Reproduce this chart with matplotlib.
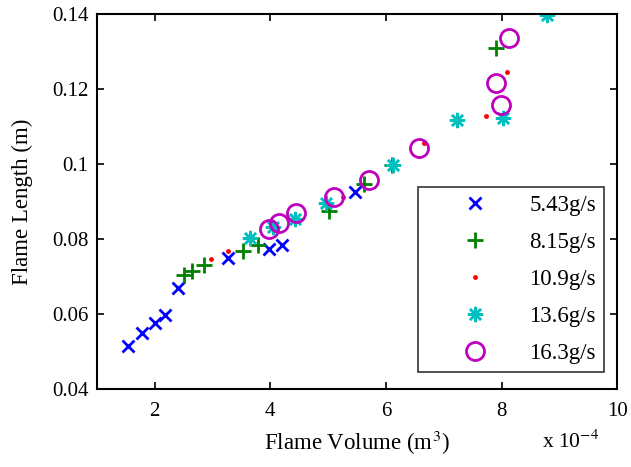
import matplotlib
matplotlib.use("Agg")
import matplotlib.pyplot as plt

plt.rcParams['font.family'] = ['Liberation Serif', 'DejaVu Serif']
plt.rcParams['mathtext.fontset'] = 'stix'

# flame volume (x 1e-4 m^3) and flame length (m) for each mass flow rate
vol_543 = [1.53, 1.78, 2.01, 2.18, 2.41, 3.26, 3.97, 4.20, 5.47]
len_543 = [0.0516, 0.0549, 0.0575, 0.0597, 0.0669, 0.0749, 0.0774, 0.0785, 0.0925]

vol_815 = [2.50, 2.64, 2.85, 3.52, 3.79, 5.02, 5.62, 6.10, 7.90]
len_815 = [0.0704, 0.0715, 0.0731, 0.0768, 0.0784, 0.0876, 0.0947, 0.0997, 0.1309]

vol_109 = [2.97, 3.26, 5.26, 6.66, 7.73, 8.09]
len_109 = [0.0747, 0.0769, 0.0913, 0.1057, 0.1129, 0.1245]

vol_136 = [3.65, 4.05, 4.43, 4.97, 6.12, 7.23, 8.02, 8.79]
len_136 = [0.0803, 0.0832, 0.0853, 0.0897, 0.0997, 0.1117, 0.1122, 0.1397]

vol_163 = [3.97, 4.15, 4.45, 5.10, 5.70, 6.58, 7.90, 7.99, 8.13]
len_163 = [0.0827, 0.0843, 0.0869, 0.0911, 0.0957, 0.1042, 0.1217, 0.1157, 0.1337]

labels = ['5.43g/s', '8.15g/s', '10.9g/s', '13.6g/s', '16.3g/s']

fig = plt.figure(figsize=(6.31, 4.67), dpi=100)
ax = fig.add_axes([0.1537, 0.167, 0.8243, 0.803])

ax.plot(vol_543, len_543, 'x', color=(0, 0, 1), ms=9, mew=2, label=labels[0])
ax.plot(vol_815, len_815, '+', color=(0, 0.5, 0), ms=12, mew=2, label=labels[1])
ax.plot(vol_109, len_109, '.', color=(1, 0, 0), ms=5, label=labels[2])
ax.plot(vol_136, len_136, marker=(8, 2, 0), ls='none', color=(0, 0.75, 0.75), ms=11, mew=1.8, label=labels[3])
ax.plot(vol_163, len_163, 'o', mfc='none', mec=(0.75, 0, 0.75), ms=13, mew=2, label=labels[4])

ax.set_xlim(1, 10)
ax.set_ylim(0.04, 0.14)
ax.set_xticks([2, 4, 6, 8, 10])
ax.set_yticks([0.04, 0.06, 0.08, 0.1, 0.12, 0.14])
ax.set_yticklabels(['0.04', '0.06', '0.08', '0.1', '0.12', '0.14'])
ax.tick_params(direction='in', top=True, right=True, labelsize=15, length=5, width=1.2)
ax.tick_params(axis='y', pad=6)
ax.tick_params(axis='x', pad=9)
for s in ax.spines.values():
    s.set_linewidth(1.5)

ax.set_xlabel('Flame Volume (m$^3$)', fontsize=16.5, labelpad=6)
ax.set_ylabel('Flame Length (m)', fontsize=16.5, labelpad=14)
ax.text(0.91, -0.14, r'x 10$^{-4}$', transform=ax.transAxes, fontsize=15.5,
        ha='center', va='center')

leg = ax.legend(loc='lower right', bbox_to_anchor=(0.975, 0.045), fontsize=16.5,
                frameon=True, fancybox=False, edgecolor='black', borderpad=0.35,
                handlelength=4.3, handletextpad=0.2, labelspacing=0.7, numpoints=1,
                borderaxespad=0)
leg.get_frame().set_linewidth(1.2)

fig.savefig('out.png', dpi=100)
